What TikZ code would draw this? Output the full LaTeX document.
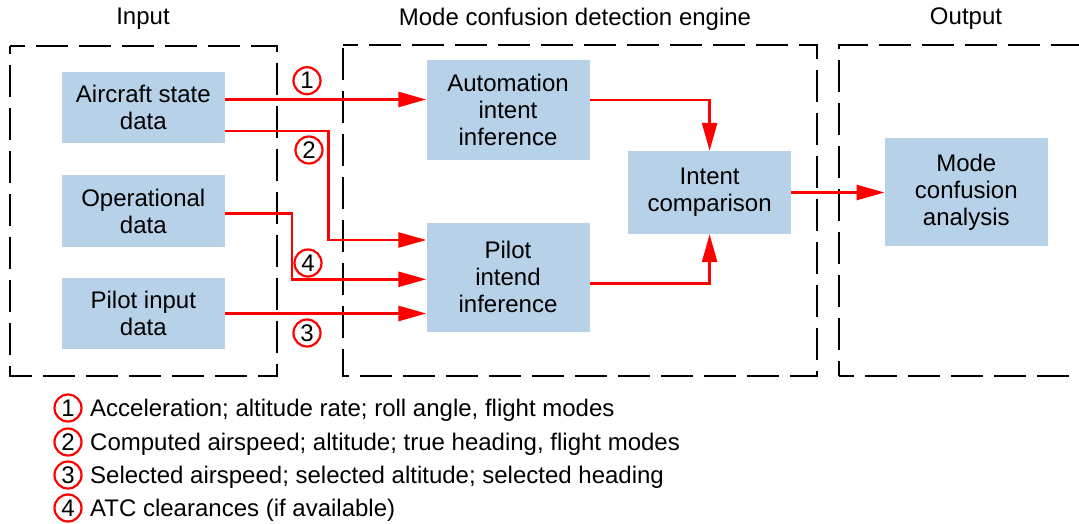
\documentclass[tikz,border=0pt]{standalone}
\usepackage{fontspec}
\setmainfont{Liberation Sans}
\usetikzlibrary{calc,arrows.meta}
\definecolor{boxblue}{RGB}{183,210,232}
\definecolor{linered}{RGB}{255,0,0}
\begin{document}
\begin{tikzpicture}[x=1pt,y=-1pt,
  txt/.style={font=\fontsize{24}{27}\selectfont},
  box/.style={txt, fill=boxblue, minimum width=163pt, inner sep=0pt, align=center},
  frame/.style={draw=black, line width=2pt, dash pattern=on 32pt off 11pt, dash phase=17pt},
  arr/.style={draw=linered, line width=2.6pt, -{Triangle[length=28pt,width=15pt]}},
  num/.style={txt, circle, draw=linered, line width=2.2pt, minimum size=27pt, inner sep=0pt},
  legtxt/.style={txt, inner sep=0pt, anchor=base west},
]
\useasboundingbox (0,0) rectangle (1079,523);
\clip (0,0) rectangle (1079,523);

% titles
\node[txt] (tin) at (143,18.5) {Input};
\node[txt] (teng) at (575,19) {Mode confusion detection engine};
\node[txt] (tout) at (966,18.5) {Output};

% frames
\draw[frame] (10,45.5) -- (277,45.5) -- (277,376) -- (10,376) -- cycle;
\draw[frame] (343,45) -- (817,45) -- (817,375.5) -- (343,375.5) -- cycle;
\draw[frame] (839,375.5) -- (839,45) -- (1095,45);
\draw[frame] (839,375.5) -- (1095,375.5);

% boxes
\node[box, minimum height=71.7pt] (ac) at (143.3,107.5) {Aircraft state\\data};
\node[box, minimum height=71.7pt] (op) at (143.3,211) {Operational\\data};
\node[box, minimum height=71pt] (pin) at (143.3,313.5) {Pilot input\\data};
\node[box, minimum height=100pt] (auto) at (508,110) {Automation\\intent\\inference};
\node[box, minimum height=109pt] (pi) at (508,277.3) {Pilot\\intend\\inference};
\node[box, minimum height=83pt] (ic) at (709.6,192.5) {Intent\\comparison};
\node[box, minimum height=108pt] (mca) at (966.3,192.2) {Mode\\confusion\\analysis};

% connectors
\coordinate (a1) at ($(ac.east)+(0,-8)$);
\draw[arr] (a1) -- (a1 -| auto.west);
\coordinate (a2) at ($(ac.east)+(0,23.5)$);
\coordinate (a2e) at ($(pi.west)+(0,-37.3)$);
\draw[arr] (a2) -- ++(103.5,0) |- (a2e);
\coordinate (a4) at ($(op.east)+(0,2.3)$);
\coordinate (a4e) at ($(pi.west)+(0,2)$);
\draw[arr] (a4) -- ++(66.9,0) |- (a4e);
\draw[arr] (pin.east) -- (pin.east -| pi.west);
\coordinate (a5) at ($(auto.east)+(0,-10)$);
\draw[arr] (a5) -| (ic.north);
\coordinate (a6) at ($(pi.east)+(0,6)$);
\draw[arr] (a6) -| (ic.south);
\draw[arr] (ic.east) -- (ic.east -| mca.west);

% numbered circles
\node[num] (c1) at (307,80.7) {1};
\node[num] (c2) at (309,150) {2};
\node[num] (c4) at (308,263) {4};
\node[num] (c3) at (307,333) {3};

% legend
\node[num] (l1) at (68,408) {1};
\node[num] (l2) at (68,442) {2};
\node[num] (l3) at (68,475) {3};
\node[num] (l4) at (68,508) {4};
\node[legtxt] (t1) at (90,416.7) {Acceleration; altitude rate; roll angle, flight modes};
\node[legtxt] (t2) at (90,450) {Computed airspeed; altitude; true heading, flight modes};
\node[legtxt] (t3) at (90,483.5) {Selected airspeed; selected altitude; selected heading};
\node[legtxt] (t4) at (90,516.5) {ATC clearances (if available)};
\end{tikzpicture}
\end{document}
